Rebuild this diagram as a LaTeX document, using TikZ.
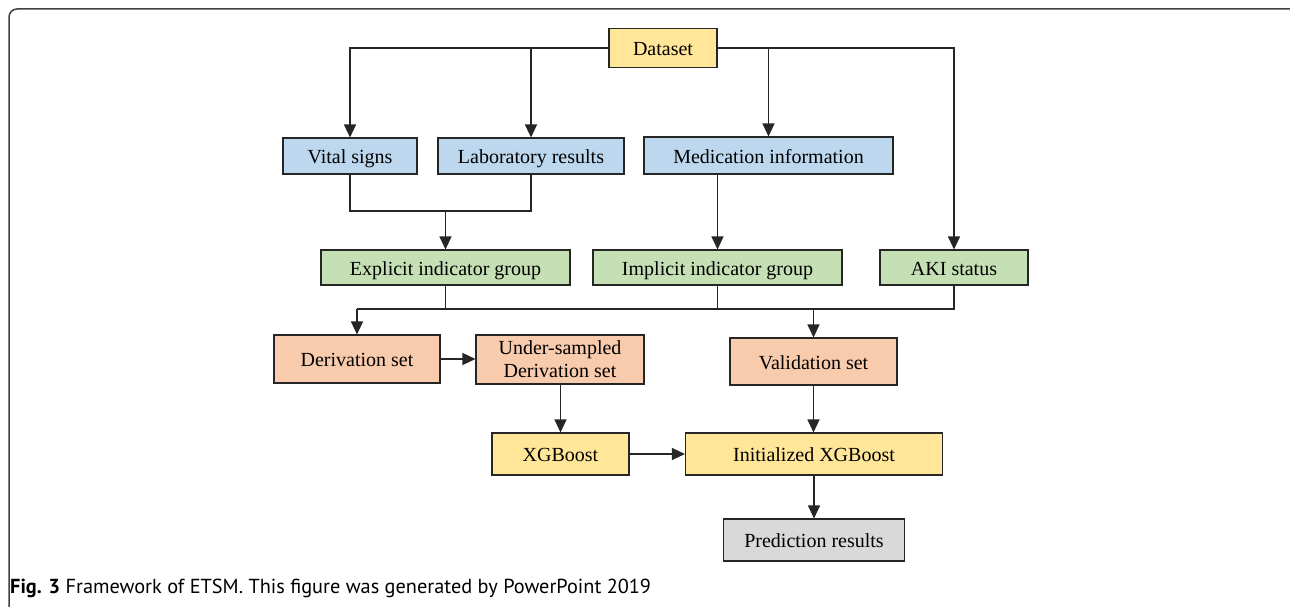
\documentclass[tikz,border=0pt]{standalone}
\usepackage{fontspec}
\setmainfont{Liberation Serif}
\newfontfamily\capfont{PT Sans}
\usetikzlibrary{arrows.meta}
\definecolor{cyellow}{HTML}{FFE699}
\definecolor{cblue}{HTML}{BDD7EE}
\definecolor{cgreen}{HTML}{C5E0B4}
\definecolor{corange}{HTML}{F8CBAD}
\definecolor{cgray}{HTML}{D9D9D9}
\begin{document}
\begin{tikzpicture}[x=1pt,y=-1pt,
  box/.style={draw=black!85, line width=1.1pt, inner sep=0pt, align=center,
    font=\fontsize{20}{23}\selectfont},
  sline/.style={box, text height=17pt, text depth=2pt},
  conn/.style={line width=1.2pt, draw=black!85},
  arr/.style={conn, -{Triangle[length=13pt,width=12pt]}}]
\useasboundingbox (0,0) rectangle (1290,607);
% frame
\draw[line width=1.5pt, draw=black!75] (9,607) -- (9,17) arc[start angle=180,end angle=270,radius=8] -- (1290,9);
% nodes
\node[sline, fill=cyellow, minimum width=108pt, minimum height=39pt] (dataset) at (663,48) {Dataset};
\node[sline, fill=cblue, minimum width=134pt, minimum height=36pt] (vital) at (350,156) {Vital signs};
\node[sline, fill=cblue, minimum width=186pt, minimum height=36pt] (lab) at (531,156) {Laboratory results};
\node[sline, fill=cblue, minimum width=249pt, minimum height=37pt] (med) at (768.5,155.5) {Medication information};
\node[sline, fill=cgreen, minimum width=249pt, minimum height=35pt] (expl) at (445.5,267.5) {Explicit indicator group};
\node[sline, fill=cgreen, minimum width=249pt, minimum height=35pt] (impl) at (717.5,267.5) {Implicit indicator group};
\node[sline, fill=cgreen, minimum width=148pt, minimum height=35pt] (aki) at (954,267.5) {AKI status};
\node[sline, fill=corange, minimum width=166pt, minimum height=48pt] (deriv) at (357,359) {Derivation set};
\node[box, fill=corange, minimum width=168pt, minimum height=49pt] (under) at (560,359.5) {Under-sampled\\Derivation set};
\node[sline, fill=corange, minimum width=167pt, minimum height=47pt] (valid) at (813.5,361.5) {Validation set};
\node[sline, fill=cyellow, minimum width=137pt, minimum height=42pt] (xgb) at (560.5,454) {XGBoost};
\node[sline, fill=cyellow, minimum width=257pt, minimum height=42pt] (init) at (814,454) {Initialized XGBoost};
\node[sline, fill=cgray, minimum width=181pt, minimum height=42pt] (pred) at (814,540) {Prediction results};
% coordinates
\coordinate (mA) at (445.5,211);
\coordinate (b1) at (357,309);
\coordinate (b2) at (813.5,309);
% connectors
\draw[arr] (dataset.west) -| (vital.north);
\draw[arr] (lab.north |- dataset.west) -- (lab.north);
\draw[arr] (dataset.east) -| (aki.north);
\draw[arr] (med.north |- dataset.east) -- (med.north);
\draw[conn] (vital.south) |- (mA);
\draw[conn] (lab.south) |- (mA);
\draw[arr] (mA) -- (expl.north);
\draw[arr] (impl.north |- med.south) -- (impl.north);
\draw[conn] (expl.south) |- (b1);
\draw[conn] (impl.south) |- (b1);
\draw[conn] (aki.south) |- (b2);
\draw[conn] (impl.south) |- (b2);
\draw[arr] (b1) -- (deriv.north);
\draw[arr] (b2) -- (valid.north);
\draw[arr] (deriv.east) -- (under.west |- deriv.east);
\draw[arr] (xgb.north |- under.south) -- (xgb.north);
\draw[arr] (valid.south) -- (init.north -| valid.south);
\draw[arr] (xgb.east) -- (init.west);
\draw[arr] (init.south) -- (pred.north);
% caption
\node[anchor=base west, inner sep=0pt, font=\capfont\fontsize{20.3}{23}\selectfont] (cap) at (10,593)
  {\textbf{Fig. 3} Framework of ETSM. This figure was generated by PowerPoint 2019};
\end{tikzpicture}
\end{document}
